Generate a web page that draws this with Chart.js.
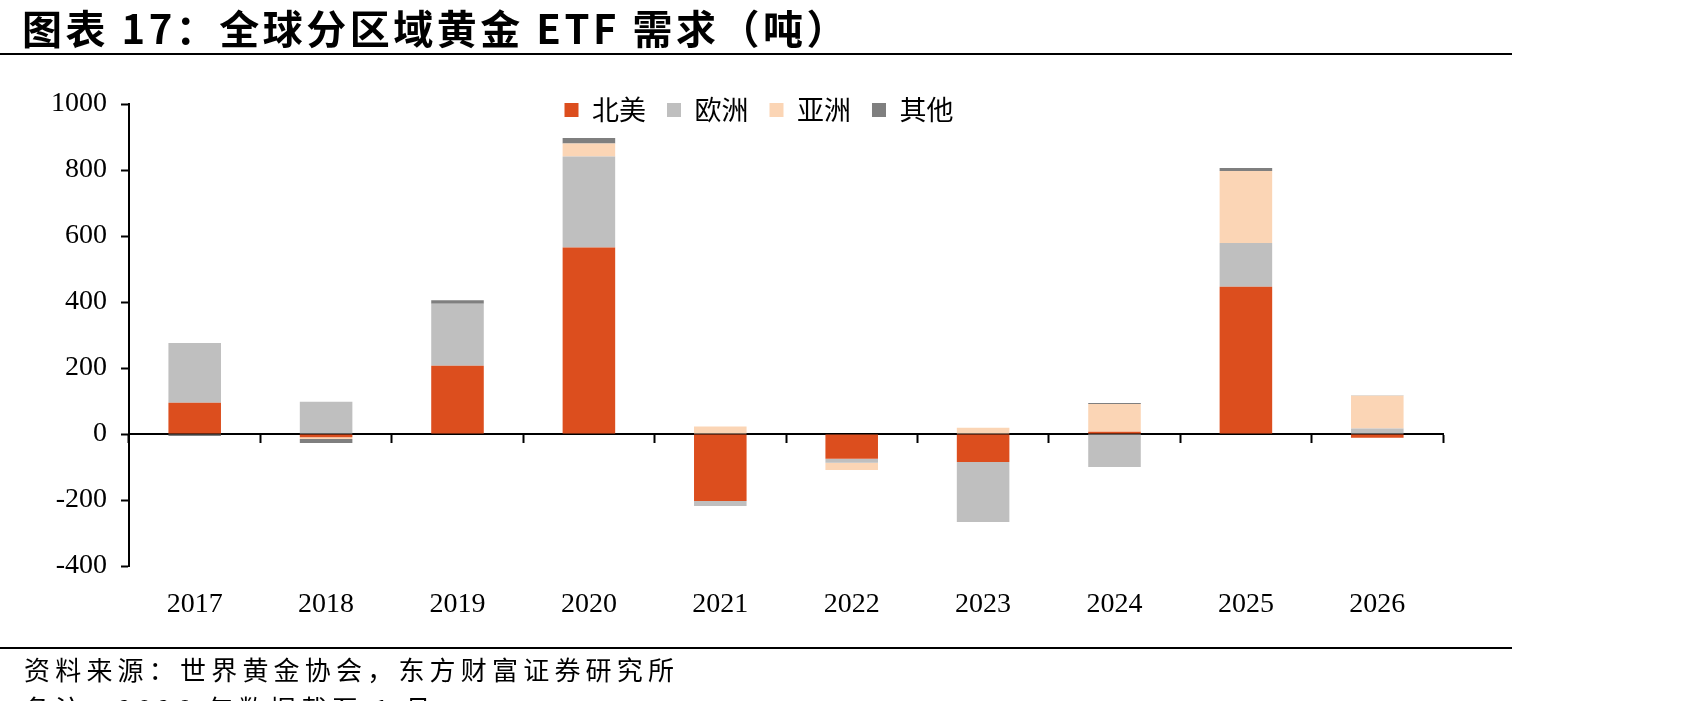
<!DOCTYPE html>
<html>
<head>
<meta charset="utf-8">
<script src="https://cdn.jsdelivr.net/npm/chart.js@4.4.1/dist/chart.umd.min.js"></script>
<style>
  html, body { margin: 0; padding: 0; background: #fff; }
  body { width: 1701px; height: 701px; position: relative; overflow: hidden; }
  #wrap { position: absolute; left: 0; top: 0; width: 1701px; height: 701px; }
  #title { position: absolute; left: 22px; top: 1px; font-family: "Noto Sans CJK SC"; font-weight: 700; font-size: 40px; letter-spacing: 3.5px; color: #000; white-space: nowrap; line-height: 52px; }
  .rule { position: absolute; left: 0; width: 1512px; height: 2px; background: #000; }
  #src { position: absolute; left: 24px; top: 651px; font-family: "Noto Sans CJK SC"; font-size: 26px; letter-spacing: 5.2px; color: #000; white-space: nowrap; line-height: 36px; }
  #note { position: absolute; left: 24px; top: 690px; font-family: "Noto Sans CJK SC"; font-size: 26px; letter-spacing: 5.2px; color: #000; white-space: nowrap; line-height: 36px; }
</style>
</head>
<body>
<div id="wrap"><canvas id="c" width="1701" height="701"></canvas></div>
<div id="title">图表 17：全球分区域黄金 ETF 需求（吨）</div>
<div class="rule" style="top:53px"></div>
<div class="rule" style="top:647px"></div>
<div id="src">资料来源：世界黄金协会，东方财富证券研究所</div>
<div id="note">备注：2026 年数据截至 1 月</div>
<script>
const categories = ['2017','2018','2019','2020','2021','2022','2023','2024','2025','2026'];
const northAmerica = [95, -10, 207, 565, -203, -75, -85, 7, 446, -11];
const europe       = [181, 98, 188, 276, -15, -12, -182, -100, 133, 17];
const asia         = [0, -5, 0, 39, 23, -22, 19, 84, 218, 99];
const other        = [-6, -12, 10, 17, 0, 0, 0, 3, 9, 1];
const seriesNames  = ['北美', '欧洲', '亚洲', '其他'];
const yMin = -400, yMax = 1000, yStep = 200;

const colors = ['#DC4E1E', '#BFBFBF', '#FBD5B5', '#7F7F7F'];
const seriesData = [northAmerica, europe, asia, other];

const AREA_TOP = 104;  // pixel of the chart area top
const LEG_CX = 759;    // desired legend centre x
const LEG_CY = 110;    // desired legend centre y

const legendShift = {
  id: 'legendShift',
  afterLayout(chart) {
    const lg = chart.legend;
    if (!lg || !lg.lineWidths) return;
    const pad = lg.options.labels.padding;
    const lw = lg.lineWidths[0] || 0;
    const startNow = (lg.left + pad + lg.right - lw) / 2;
    const contentW = lw - pad;
    const dx = (LEG_CX - contentW / 2) - startNow;
    lg.left += dx; lg.right += dx;
    const h = lg.bottom - lg.top;
    const fs = lg.options.labels.font.size;
    const itemH = Math.max(fs, lg.options.labels.boxHeight || fs);
    const newTop = LEG_CY - pad - itemH / 2;
    lg.top = newTop; lg.bottom = newTop + h;
  }
};

const chart = new Chart(document.getElementById('c'), {
  type: 'bar',
  data: {
    labels: categories,
    datasets: seriesData.map((d, i) => ({
      label: seriesNames[i],
      data: d,
      backgroundColor: colors[i],
      borderWidth: 0,
      categoryPercentage: 1.0,
      barPercentage: 0.4,
      xAxisID: 'x',
      yAxisID: 'y'
    }))
  },
  options: {
    responsive: false,
    animation: false,
    devicePixelRatio: 1,
    layout: { padding: { left: 0, right: 258, top: 10, bottom: 0 } },
    plugins: {
      legend: {
        position: 'top',
        align: 'center',
        labels: {
          boxWidth: 14,
          boxHeight: 14,
          padding: 21,
          color: '#000',
          font: { family: 'Noto Sans CJK SC', size: 27 }
        }
      },
      tooltip: { enabled: false },
      title: { display: false }
    },
    scales: {
      x: {
        type: 'category',
        stacked: true,
        offset: true,
        grid: { display: false, drawTicks: false, offset: true },
        border: { display: false },
        ticks: { color: '#000', padding: 22, font: { family: 'Liberation Serif', size: 28 } },
        afterFit: (s) => { s.height = 135; }
      },
      x2: {
        type: 'category',
        axis: 'x',
        position: { y: 0 },
        offset: true,
        grid: { display: true, drawOnChartArea: false, drawTicks: true, offset: true, tickLength: 8, tickWidth: 2, tickColor: '#000' },
        border: { display: true, color: '#000', width: 2 },
        ticks: { display: false }
      },
      y: {
        type: 'linear',
        stacked: true,
        min: yMin,
        max: yMax,
        ticks: { stepSize: yStep, color: '#000', padding: 14, font: { family: 'Liberation Serif', size: 28 }, callback: (v) => String(v) },
        grid: { display: true, drawOnChartArea: false, drawTicks: true, tickLength: 8, tickWidth: 2, tickColor: '#000' },
        border: { display: true, color: '#000', width: 2 },
        afterFit: (s) => { s.width = 129; }
      }
    }
  },
  plugins: [legendShift]
});

// keep the plot area top at the reference position, whatever height the legend box takes
const dTop = AREA_TOP - chart.chartArea.top;
if (Math.abs(dTop) > 0.5) {
  chart.options.layout.padding.top = Math.max(0, chart.options.layout.padding.top + dTop);
  chart.update();
}
</script>
</body>
</html>
